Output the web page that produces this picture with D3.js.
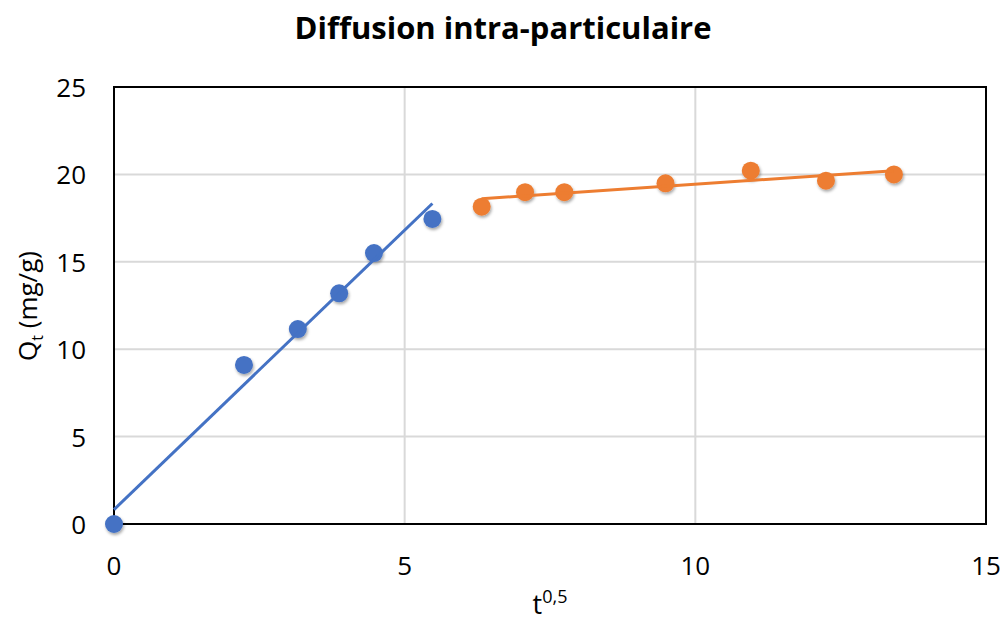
<!DOCTYPE html>
<html>
<head>
<meta charset="utf-8">
<script src="https://cdn.jsdelivr.net/npm/d3@7"></script>
<style>
  body { margin: 0; background: #fff; }
  svg text { font-family: "Open Sans", "Liberation Sans", sans-serif; fill: #000; }
</style>
</head>
<body>
<svg id="chart" width="1006" height="623"></svg>
<script>
// data: x = sqrt(t), y = Qt
const phase1X = [0, 2.236, 3.162, 3.873, 4.472, 5.477];
const phase1Y = [0, 9.1, 11.15, 13.2, 15.5, 17.45];
const phase2X = [6.325, 7.071, 7.746, 9.487, 10.954, 12.247, 13.416];
const phase2Y = [18.15, 18.98, 18.98, 19.49, 20.21, 19.64, 20.0];
const xTicks = [0, 5, 10, 15];
const yTicks = [0, 5, 10, 15, 20, 25];

const svg = d3.select("#chart");
const plotL = 114, plotR = 986, plotT = 87, plotB = 524;

const x = d3.scaleLinear().domain([0, 15]).range([plotL, plotR]);
const y = d3.scaleLinear().domain([0, 25]).range([plotB, plotT]);

// drop shadow for markers
const defs = svg.append("defs");
const f = defs.append("filter").attr("id", "shadow")
  .attr("x", "-50%").attr("y", "-50%").attr("width", "200%").attr("height", "200%");
f.append("feDropShadow").attr("dx", 1).attr("dy", 2).attr("stdDeviation", 1.8)
  .attr("flood-color", "#000").attr("flood-opacity", 0.35);

// title
svg.append("text")
  .attr("x", 503).attr("y", 39)
  .attr("text-anchor", "middle")
  .style("font-size", "31px").style("font-weight", "bold")
  .text("Diffusion intra-particulaire");

// gridlines
svg.append("g").selectAll("line").data(yTicks.slice(1, -1)).enter().append("line")
  .attr("x1", plotL).attr("x2", plotR)
  .attr("y1", d => y(d)).attr("y2", d => y(d))
  .attr("stroke", "#d9d9d9").attr("stroke-width", 2);
svg.append("g").selectAll("line").data(xTicks.slice(1, -1)).enter().append("line")
  .attr("y1", plotT).attr("y2", plotB)
  .attr("x1", d => x(d)).attr("x2", d => x(d))
  .attr("stroke", "#d9d9d9").attr("stroke-width", 2);

// frame
svg.append("rect")
  .attr("x", plotL).attr("y", plotT)
  .attr("width", plotR - plotL).attr("height", plotB - plotT)
  .attr("fill", "none").attr("stroke", "#000").attr("stroke-width", 2);

// tick labels
svg.append("g").selectAll("text").data(xTicks).enter().append("text")
  .attr("x", d => x(d)).attr("y", 575)
  .attr("text-anchor", "middle")
  .style("font-size", "26px")
  .text(d => d);
svg.append("g").selectAll("text").data(yTicks).enter().append("text")
  .attr("x", 86).attr("y", d => y(d) + 10)
  .attr("text-anchor", "end")
  .style("font-size", "26px")
  .text(d => d);

// axis titles
const xt = svg.append("text").attr("x", 550).attr("y", 614)
  .attr("text-anchor", "middle").style("font-size", "27px");
xt.append("tspan").text("t");
xt.append("tspan").attr("dy", -11).style("font-size", "18px").text("0,5");

const yt = svg.append("text")
  .attr("transform", "translate(37,306) rotate(-90)")
  .attr("text-anchor", "middle").style("font-size", "26px");
yt.append("tspan").text("Q");
yt.append("tspan").attr("dy", 6).style("font-size", "16px").text("t");
yt.append("tspan").attr("dy", -6).text(" (mg/g)");

// least squares trendline over the data range
function fit(xs, ys) {
  const mx = d3.mean(xs), my = d3.mean(ys);
  let sxy = 0, sxx = 0;
  xs.forEach((v, i) => { sxy += (v - mx) * (ys[i] - my); sxx += (v - mx) * (v - mx); });
  const b = sxy / sxx, a = my - b * mx;
  const x0 = d3.min(xs), x1 = d3.max(xs);
  return [[x0, a + b * x0], [x1, a + b * x1]];
}

const series = [
  { xs: phase1X, ys: phase1Y, color: "#4472c4" },
  { xs: phase2X, ys: phase2Y, color: "#ed7d31" }
];

const line = d3.line().x(d => x(d[0])).y(d => y(d[1]));

series.forEach(s => {
  const pts = s.xs.map((v, i) => [v, s.ys[i]]);
  svg.append("g").attr("filter", "url(#shadow)")
    .selectAll("circle").data(pts).enter().append("circle")
    .attr("cx", d => x(d[0])).attr("cy", d => y(d[1]))
    .attr("r", 9).attr("fill", s.color);
  svg.append("path")
    .datum(fit(s.xs, s.ys))
    .attr("d", line)
    .attr("fill", "none").attr("stroke", s.color).attr("stroke-width", 3);
});
</script>
</body>
</html>
